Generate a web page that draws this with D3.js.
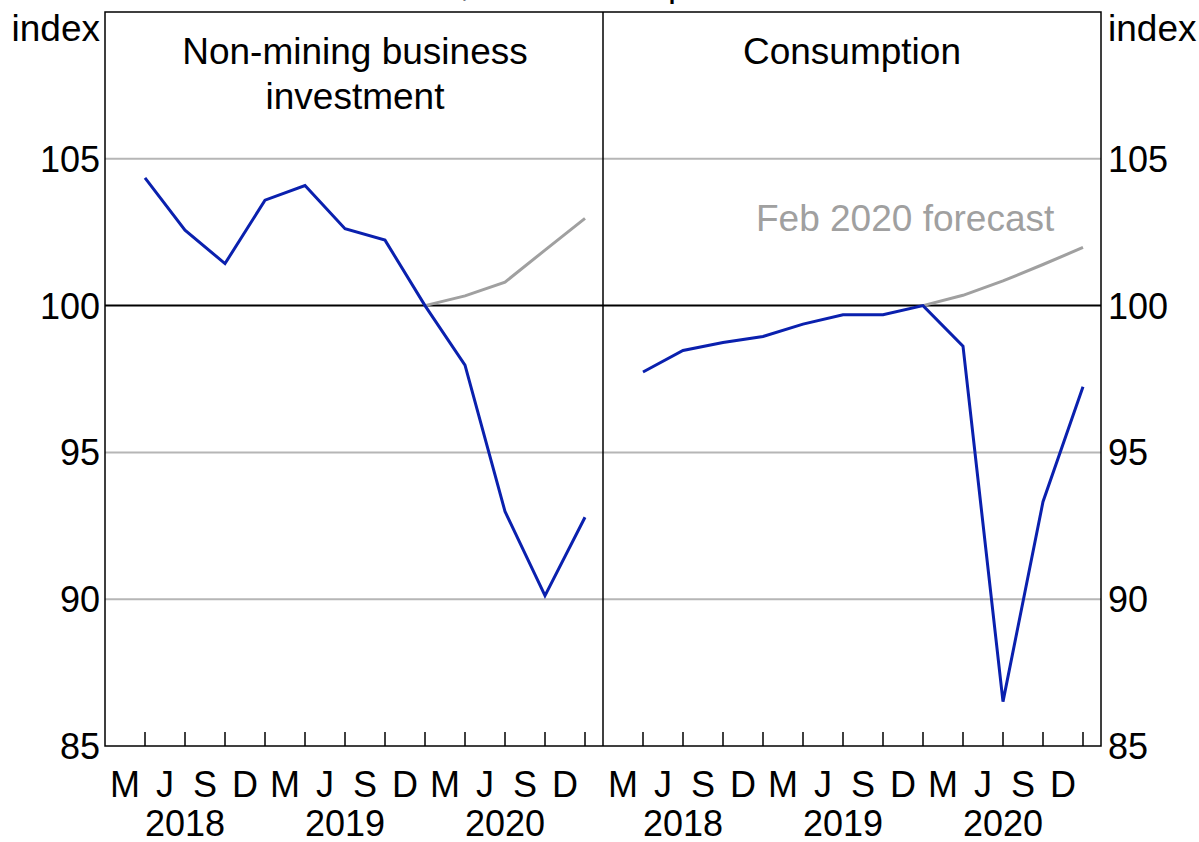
<!DOCTYPE html>
<html>
<head>
<meta charset="utf-8">
<script src="https://cdn.jsdelivr.net/npm/d3@7"></script>
<style>
  body { margin: 0; background: #fff; }
  svg text { font-family: Arial, "Liberation Sans", sans-serif; fill: #000; }
</style>
</head>
<body>
<script>
// quarterly values, Dec quarter 2019 = 100 (Mar 2018 .. Dec 2020)
const quarterLabels = ["M", "J", "S", "D", "M", "J", "S", "D", "M", "J", "S", "D"];
const yearLabels = ["2018", "2019", "2020"];
const yTicks = [85, 90, 95, 100, 105];

const investment = [104.35, 102.57, 101.43, 103.59, 104.09, 102.62, 102.23, 100, 97.97, 92.99, 90.12, 92.79];
const investmentForecast = [100, 100.33, 100.8, 101.89, 102.97];

const consumption = [97.74, 98.47, 98.74, 98.95, 99.37, 99.69, 99.69, 100, 98.62, 86.51, 93.32, 97.24];
const consumptionForecast = [100, 100.35, 100.84, 101.4, 101.98];

const forecastStart = 7; // index of the Dec 2019 quarter

const panels = [
  { title: ["Non-mining business", "investment"], actual: investment, forecast: investmentForecast },
  { title: ["Consumption"], actual: consumption, forecast: consumptionForecast, note: "Feb 2020 forecast" }
];

const BLUE = "#0a20ae";
const GREY = "#a0a0a0";
const GRID = "#b6b6b6";

const width = 1199, height = 842;
const plotTop = 12, plotBottom = 746;
const plotLeft = 105, plotMid = 603, plotRight = 1101;
const fontSize = 36;
const titleSize = 37;

const svg = d3.select("body").append("svg")
  .attr("width", width)
  .attr("height", height);

const y = d3.scaleLinear().domain([85, 110]).range([plotBottom, plotTop]);

// cut-off subtitle at the very top
svg.append("text")
  .attr("x", 386)
  .attr("y", -4)
  .attr("font-size", fontSize)
  .text("Real, December quarter 2019 = 100");

panels.forEach((p, k) => {
  const x0 = k === 0 ? plotLeft : plotMid;
  const x1 = k === 0 ? plotMid : plotRight;
  const x = d3.scaleLinear().domain([0, 12.45]).range([x0, x1]);
  const g = svg.append("g");

  // grid lines
  g.selectAll("line.grid")
    .data(yTicks.filter(d => d !== 100 && d !== 85))
    .enter()
    .append("line")
    .attr("x1", x0).attr("x2", x1)
    .attr("y1", d => y(d)).attr("y2", d => y(d))
    .attr("stroke", GRID)
    .attr("stroke-width", 2);

  // x ticks at quarter ends, pointing up
  g.selectAll("line.tick")
    .data(d3.range(1, 13))
    .enter()
    .append("line")
    .attr("x1", d => x(d)).attr("x2", d => x(d))
    .attr("y1", plotBottom).attr("y2", plotBottom - 14)
    .attr("stroke", "#000")
    .attr("stroke-width", 1.5);

  g.selectAll("text.q")
    .data(quarterLabels)
    .enter()
    .append("text")
    .attr("x", (d, i) => x(i + 0.5))
    .attr("y", 797)
    .attr("text-anchor", "middle")
    .attr("font-size", fontSize)
    .text(d => d);

  g.selectAll("text.yr")
    .data(yearLabels)
    .enter()
    .append("text")
    .attr("x", (d, i) => x(i * 4 + 2))
    .attr("y", 836)
    .attr("text-anchor", "middle")
    .attr("font-size", fontSize)
    .text(d => d);

  // 100 line
  g.append("line")
    .attr("x1", x0).attr("x2", x1)
    .attr("y1", y(100)).attr("y2", y(100))
    .attr("stroke", "#000")
    .attr("stroke-width", 2);

  const line = d3.line()
    .x(d => x(d.i + 1))
    .y(d => y(d.v));

  g.append("path")
    .datum(p.forecast.map((v, i) => ({ i: i + forecastStart, v })))
    .attr("d", line)
    .attr("fill", "none")
    .attr("stroke", GREY)
    .attr("stroke-width", 3);

  g.append("path")
    .datum(p.actual.map((v, i) => ({ i, v })))
    .attr("d", line)
    .attr("fill", "none")
    .attr("stroke", BLUE)
    .attr("stroke-width", 3);

  g.selectAll("text.title")
    .data(p.title)
    .enter()
    .append("text")
    .attr("x", (x0 + x1) / 2 + (k === 0 ? 1 : 0))
    .attr("y", (d, i) => 64 + i * 45)
    .attr("text-anchor", "middle")
    .attr("font-size", titleSize)
    .text(d => d);

  if (p.note) {
    g.append("text")
      .attr("x", 756)
      .attr("y", 231)
      .attr("font-size", titleSize)
      .style("fill", GREY)
      .text(p.note);
  }
});

// frame
svg.append("rect")
  .attr("x", plotLeft).attr("y", plotTop)
  .attr("width", plotRight - plotLeft).attr("height", plotBottom - plotTop)
  .attr("fill", "none")
  .attr("stroke", "#000")
  .attr("stroke-width", 1.5);

svg.append("line")
  .attr("x1", plotMid).attr("x2", plotMid)
  .attr("y1", plotTop).attr("y2", plotBottom)
  .attr("stroke", "#000")
  .attr("stroke-width", 1.5);

// y axis labels, both sides
svg.selectAll("text.ylab-left")
  .data(yTicks)
  .enter()
  .append("text")
  .attr("x", plotLeft - 5)
  .attr("y", d => y(d) + 13)
  .attr("text-anchor", "end")
  .attr("font-size", fontSize)
  .text(d => d);

svg.selectAll("text.ylab-right")
  .data(yTicks)
  .enter()
  .append("text")
  .attr("x", plotRight + 7)
  .attr("y", d => y(d) + 13)
  .attr("text-anchor", "start")
  .attr("font-size", fontSize)
  .text(d => d);

svg.append("text")
  .attr("x", plotLeft - 5).attr("y", 41)
  .attr("text-anchor", "end")
  .attr("font-size", titleSize)
  .text("index");

svg.append("text")
  .attr("x", plotRight + 7).attr("y", 41)
  .attr("font-size", titleSize)
  .text("index");
</script>
</body>
</html>
